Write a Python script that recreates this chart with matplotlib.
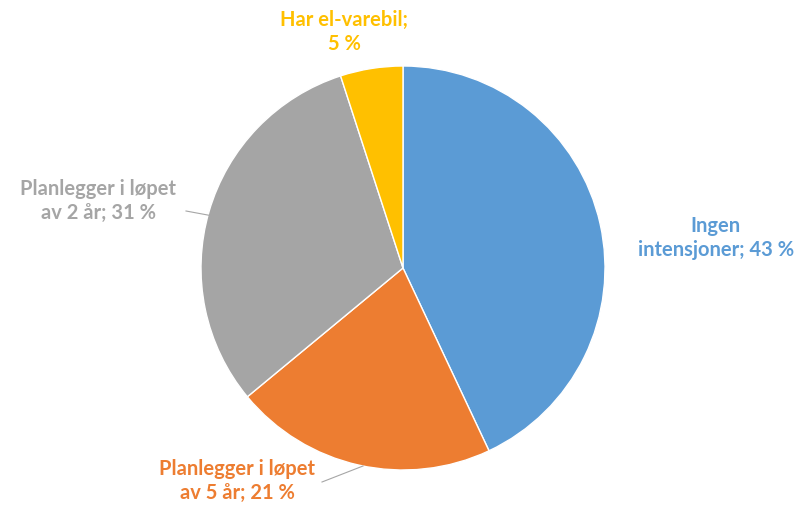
import matplotlib.pyplot as plt

categories = ['Ingen\nintensjoner; 43 %', 'Planlegger i løpet\nav 5 år; 21 %',
              'Planlegger i løpet\nav 2 år; 31 %', 'Har el-varebil;\n5 %']
values = [43, 21, 31, 5]
colors = ['#5B9BD5', '#ED7D31', '#A5A5A5', '#FFC000']

W, H = 797, 506
fig = plt.figure(figsize=(W / 100, H / 100), dpi=100)
ax = fig.add_axes([0, 0, 1, 1])

cx, cy, r = 403, H - 269, 202
ax.pie(values, colors=colors, startangle=90, counterclock=False,
       center=(cx, cy), radius=r, frame=True,
       wedgeprops=dict(edgecolor='white', linewidth=1))
ax.set_xlim(0, W)
ax.set_ylim(0, H)
ax.set_aspect('equal')
ax.axis('off')

# label anchors in pixel coords (x, y from top) and horizontal alignment
label_pos = [(794, 238, 'right'), (237, 481, 'center'),
             (98, 201, 'center'), (344, 32, 'center')]
for text, col, (x, y, ha) in zip(categories, colors, label_pos):
    ax.text(x, H - y, text, color=col, ha=ha, va='center', multialignment='center',
            fontsize=14.5, fontweight='bold', family='Lato', linespacing=1.2)

# leader lines
ax.plot([186, 213], [H - 212, H - 217], color='#A6A6A6', lw=0.8)
ax.plot([322, 363], [H - 483, H - 467], color='#A6A6A6', lw=0.8)

fig.savefig('out.png', dpi=100)
